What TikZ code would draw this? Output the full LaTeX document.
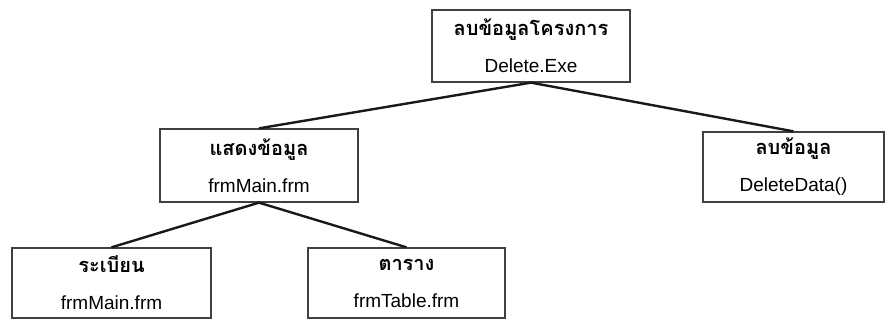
\documentclass[tikz,border=0pt]{standalone}
\usepackage{fontspec}
\setmainfont{Liberation Sans}
\newfontfamily\thaifont[Script=Thai]{Loma}
\begin{document}
\begin{tikzpicture}[x=1pt,y=-1pt,
  module/.style={draw=black!75, line width=1.3pt, rectangle, inner sep=0pt,
    align=center, font=\fontsize{19}{37}\selectfont},
  link/.style={draw=black!90, line width=2.4pt},
]
\useasboundingbox (0,0) rectangle (892,321);
\newcommand{\thname}[1]{{\thaifont\bfseries\fontsize{20}{37}\selectfont #1}}
% module boxes: centre, width, height in pixels
\node[module, minimum width=198pt, minimum height=72pt] (root) at (531,46)
  {\thname{ลบข้อมูลโครงการ}\\Delete.Exe};
\node[module, minimum width=198pt, minimum height=73pt] (show) at (259,165.5)
  {\thname{แสดงข้อมูล}\\frmMain.frm};
\node[module, minimum width=181pt, minimum height=70pt] (del) at (793.5,167)
  {\thname{ลบข้อมูล}\\DeleteData()};
\node[module, minimum width=199pt, minimum height=70pt] (reg) at (111.5,283)
  {\thname{ระเบียน}\\frmMain.frm};
\node[module, minimum width=197pt, minimum height=70pt] (tab) at (406.5,283)
  {\thname{ตาราง}\\frmTable.frm};
% hierarchy links
\draw[link] (root.south) -- (show.north);
\draw[link] (root.south) -- (del.north);
\draw[link] (show.south) -- (reg.north);
\draw[link] (show.south) -- (tab.north);
\end{tikzpicture}
\end{document}
